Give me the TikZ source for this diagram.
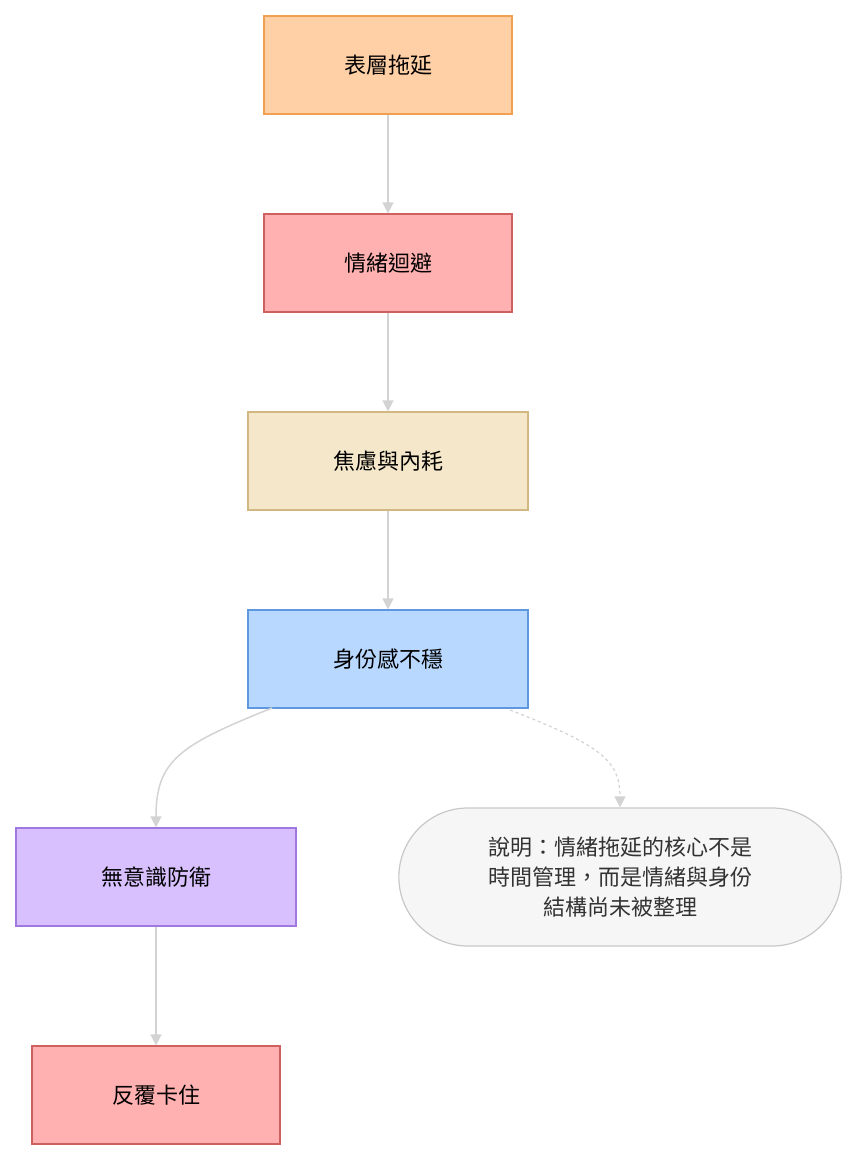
\documentclass[tikz,border=0pt]{standalone}
\usepackage{fontspec}
\setmainfont{Noto Sans CJK TC}
\usetikzlibrary{arrows.meta,shapes.misc}
\definecolor{ln}{HTML}{D3D3D3}
\begin{document}
\begin{tikzpicture}[x=1pt,y=-1pt,
  box/.style={draw=#1,line width=1.2pt,minimum height=98pt,font=\fontsize{22}{26}\selectfont,inner sep=0pt},
  ar/.style={draw=ln,line width=1.5pt,-{Triangle[length=11pt,width=11pt]}}]
\useasboundingbox (0,0) rectangle (861,1161);
\node[box=orange!70!brown!60,fill={rgb,255:red,255;green,208;blue,166},draw={rgb,255:red,240;green,160;blue,80},minimum width=248pt] (a) at (388,65) {表層拖延};
\node[box=red,fill={rgb,255:red,255;green,176;blue,176},draw={rgb,255:red,208;green,96;blue,96},minimum width=248pt] (b) at (388,263) {情緒迴避};
\node[box=red,fill={rgb,255:red,245;green,232;blue,202},draw={rgb,255:red,210;green,184;blue,128},minimum width=280pt] (c) at (388,461) {焦慮與內耗};
\node[box=red,fill={rgb,255:red,184;green,216;blue,255},draw={rgb,255:red,96;green,152;blue,224},minimum width=280pt] (d) at (388,659) {身份感不穩};
\node[box=red,fill={rgb,255:red,216;green,192;blue,255},draw={rgb,255:red,160;green,120;blue,224},minimum width=280pt] (e) at (156,877) {無意識防衛};
\node[box=red,fill={rgb,255:red,255;green,176;blue,176},draw={rgb,255:red,208;green,96;blue,96},minimum width=248pt] (f) at (156,1095) {反覆卡住};
\node[rounded rectangle,draw={rgb,255:red,200;green,200;blue,200},fill={rgb,255:red,246;green,246;blue,246},line width=1.2pt,minimum width=449pt,minimum height=138pt,align=center,font=\fontsize{22}{30}\selectfont,text={rgb,255:red,51;green,51;blue,51}] (n) at (620,877) {說明：情緒拖延的核心不是\\時間管理，而是情緒與身份\\結構尚未被整理};
\draw[ar] (a) -- (b);
\draw[ar] (b) -- (c);
\draw[ar] (c) -- (d);
\draw[ar] (e) -- (f);
\coordinate (d1) at (272,708);
\coordinate (d2) at (510,710);
\draw[ar] (d1) .. controls (180,745) and (156,760) .. (e.north);
\draw[ar,dashed,line width=1.2pt] (d2) .. controls (600,745) and (620,760) .. (n.north);
\end{tikzpicture}
\end{document}
